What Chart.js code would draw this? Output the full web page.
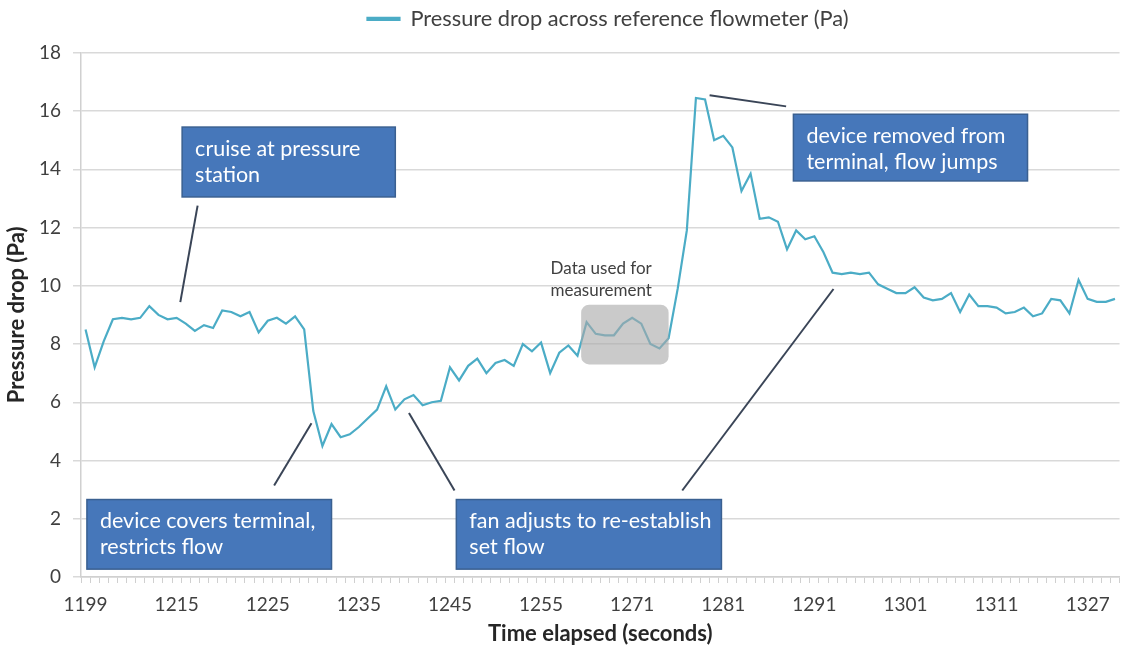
<!DOCTYPE html>
<html><head><meta charset="utf-8">
<script src="https://cdn.jsdelivr.net/npm/chart.js@4/dist/chart.umd.min.js"></script>
<style>html,body{margin:0;padding:0;background:#fff;} #wrap{width:1125px;height:653px;position:relative;}</style>
</head><body><div id="wrap"><canvas id="c"></canvas></div>
<script>
// ---- data ----
const tickLabels = ['1199','1215','1225','1235','1245','1255','1271','1281','1291','1301','1311','1327'];
const seriesName = 'Pressure drop across reference flowmeter (Pa)';
const pressure = [
  8.5, 7.2, 8.1, 8.85, 8.9, 8.85, 8.9, 9.3, 9.0, 8.85,
  8.9, 8.7, 8.45, 8.65, 8.55, 9.15, 9.1, 8.95, 9.1, 8.4,
  8.8, 8.9, 8.7, 8.95, 8.5, 5.7, 4.5, 5.25, 4.8, 4.9,
  5.15, 5.45, 5.75, 6.55, 5.75, 6.1, 6.25, 5.9, 6.0, 6.05,
  7.2, 6.75, 7.25, 7.5, 7.0, 7.35, 7.45, 7.25, 8.0, 7.75,
  8.05, 7.0, 7.7, 7.95, 7.6, 8.75, 8.35, 8.3, 8.3, 8.7,
  8.9, 8.7, 8.0, 7.85, 8.2, 9.9, 11.9, 16.45, 16.4, 15.0,
  15.15, 14.75, 13.25, 13.85, 12.3, 12.35, 12.2, 11.25, 11.9, 11.6,
  11.7, 11.15, 10.45, 10.4, 10.45, 10.4, 10.45, 10.05, 9.9, 9.75,
  9.75, 9.95, 9.6, 9.5, 9.55, 9.75, 9.1, 9.7, 9.3, 9.3,
  9.25, 9.05, 9.1, 9.25, 8.95, 9.05, 9.55, 9.5, 9.05, 10.2,
  9.55, 9.45, 9.45, 9.55
];
const categories = pressure.map((_, i) => (i % 10 === 0 ? tickLabels[i / 10] : ''));

// ---- annotations (in data coordinates: category index, Pa) ----
const calloutBoxes = [
  { lines: ['cruise at pressure', 'station'], x0: 10.6, x1: 34.0, y0: 15.45, y1: 13.05 },
  { lines: ['device covers terminal,', 'restricts flow'], x0: 0.15, x1: 27.0, y0: 2.66, y1: 0.27 },
  { lines: ['fan adjusts to re-establish', 'set flow'], x0: 40.7, x1: 69.8, y0: 2.66, y1: 0.27 },
  { lines: ['device removed from', 'terminal, flow jumps'], x0: 77.7, x1: 103.4, y0: 15.89, y1: 13.6 }
];
const leaderLines = [
  [12.3, 12.75, 10.4, 9.44],
  [20.7, 3.14, 24.8, 5.28],
  [35.5, 5.63, 40.5, 2.97],
  [65.5, 2.97, 82.1, 9.89],
  [68.5, 16.54, 76.9, 16.16]
];
const highlightBox = { x0: 54.4, x1: 64.0, y0: 9.35, y1: 7.3 };
const highlightText = { lines: ['Data used for', 'measurement'], x: 56.6, y: [10.59, 9.84] };

const FONT = 'Lato, "Open Sans", sans-serif';

const annotate = {
  id: 'annotate',
  afterDatasetsDraw(chart) {
    const { ctx, scales: { x, y } } = chart;
    ctx.save();
    // grey highlight box
    const hx0 = x.getPixelForValue(highlightBox.x0), hx1 = x.getPixelForValue(highlightBox.x1);
    const hy0 = y.getPixelForValue(highlightBox.y0), hy1 = y.getPixelForValue(highlightBox.y1);
    ctx.fillStyle = 'rgba(170,170,170,0.62)';
    ctx.beginPath();
    ctx.roundRect(hx0, hy0, hx1 - hx0, hy1 - hy0, 8);
    ctx.fill();
    ctx.fillStyle = '#404040';
    ctx.font = '17px ' + FONT;
    ctx.textAlign = 'center';
    ctx.textBaseline = 'middle';
    highlightText.lines.forEach((t, k) => {
      ctx.fillText(t, x.getPixelForValue(highlightText.x), y.getPixelForValue(highlightText.y[k]));
    });
    // leader lines
    ctx.strokeStyle = '#3a4557';
    ctx.lineWidth = 2;
    leaderLines.forEach(([a, b, c, d]) => {
      ctx.beginPath();
      ctx.moveTo(x.getPixelForValue(a), y.getPixelForValue(b));
      ctx.lineTo(x.getPixelForValue(c), y.getPixelForValue(d));
      ctx.stroke();
    });
    // blue callouts
    calloutBoxes.forEach(bx => {
      const px0 = x.getPixelForValue(bx.x0), px1 = x.getPixelForValue(bx.x1);
      const py0 = y.getPixelForValue(bx.y0), py1 = y.getPixelForValue(bx.y1);
      ctx.fillStyle = '#4677ba';
      ctx.fillRect(px0, py0, px1 - px0, py1 - py0);
      ctx.strokeStyle = '#3a6091';
      ctx.lineWidth = 1.5;
      ctx.strokeRect(px0, py0, px1 - px0, py1 - py0);
      ctx.fillStyle = '#ffffff';
      ctx.font = '21.5px ' + FONT;
      ctx.textAlign = 'left';
      ctx.textBaseline = 'middle';
      bx.lines.forEach((t, k) => ctx.fillText(t, px0 + 13, py0 + 22 + k * 26));
    });
    ctx.restore();
  }
};

const legendMargin = {
  id: 'legendMargin',
  beforeInit(chart) {
    const fit = chart.legend.fit;
    chart.legend.fit = function () { fit.bind(chart.legend)(); this.height += 13; };
  },
  afterLayout(chart) {
    // Excel centres the legend a little right of the canvas centre
    chart.legend.left += 44;
    chart.legend.right += 44;
  }
};

new Chart(document.getElementById('c'), {
  type: 'line',
  data: {
    labels: categories,
    datasets: [{
      label: seriesName,
      data: pressure,
      borderColor: '#4bacc6',
      backgroundColor: '#4bacc6',
      borderWidth: 2.2,
      pointRadius: 0,
      tension: 0,
      fill: false
    }]
  },
  options: {
    responsive: true,
    maintainAspectRatio: false,
    animation: false,
    layout: { padding: { left: 4, right: 1, top: 0, bottom: 4 } },
    plugins: {
      legend: {
        position: 'top',
        labels: { font: { family: FONT, size: 21.8 }, color: '#404040', boxWidth: 32, boxHeight: 2, padding: 8 }
      },
      tooltip: { enabled: false }
    },
    scales: {
      x: {
        type: 'category',
        offset: true,
        grid: { offset: true, drawOnChartArea: false, drawTicks: true, tickLength: 6, color: '#d0d0d0' },
        border: { color: '#d0d0d0', width: 1.5 },
        ticks: { autoSkip: false, maxRotation: 0, minRotation: 0, color: '#404040', font: { family: FONT, size: 19 }, padding: 10 },
        title: { display: true, text: 'Time elapsed (seconds)', color: '#262626', font: { family: FONT, size: 22, weight: 'bold' }, padding: { top: 2, bottom: 2 } },
        afterFit(s) { s.height = 653 - 4 - 577; }
      },
      y: {
        min: 0, max: 18,
        ticks: { stepSize: 2, color: '#404040', font: { family: FONT, size: 19 }, padding: 12 },
        grid: { color: '#d9d9d9', tickLength: 8, lineWidth: 1.5 },
        border: { color: '#d0d0d0', width: 1.5 },
        title: { display: true, text: 'Pressure drop (Pa)', color: '#262626', font: { family: FONT, size: 22, weight: 'bold' }, padding: { top: 0, bottom: 2 } },
        afterFit(s) { s.width = 81 - 4; }
      }
    }
  },
  plugins: [legendMargin, annotate]
});
</script>
</body></html>
